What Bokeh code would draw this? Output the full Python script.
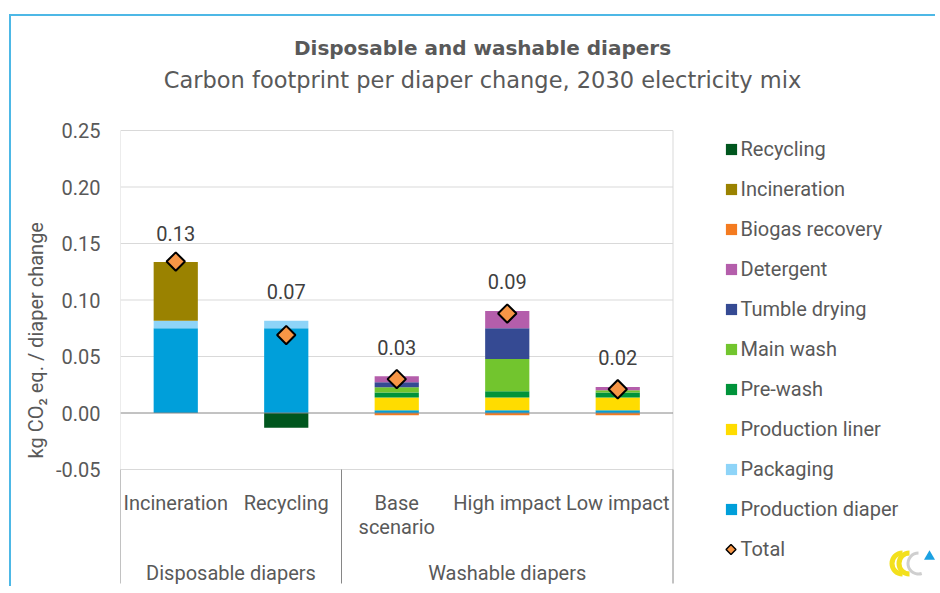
import numpy as np
from bokeh.plotting import figure
from bokeh.models import Range1d, FixedTicker, NumeralTickFormatter, Legend, LegendItem, Title
from bokeh.core.properties import value
from bokeh.embed import file_html
from bokeh.resources import INLINE

# ---------------- data ----------------
categories = ["Incineration", "Recycling", "Base scenario", "High impact", "Low impact"]
category_labels = ["Incineration", "Recycling", "Base\nscenario", "High impact", "Low impact"]
groups = ["Disposable diapers", "Washable diapers"]
group_sizes = [2, 3]

production_diaper = [0.075, 0.075, 0.0024, 0.0024, 0.0024]
packaging = [0.0066, 0.0066, 0.0, 0.0, 0.0]
production_liner = [0.0, 0.0, 0.0113, 0.0113, 0.0113]
pre_wash = [0.0, 0.0, 0.0044, 0.0056, 0.0044]
main_wash = [0.0, 0.0, 0.0047, 0.0284, 0.0020]
tumble_drying = [0.0, 0.0, 0.0044, 0.0272, 0.0]
detergent = [0.0, 0.0, 0.0053, 0.0154, 0.0030]
biogas_recovery = [0.0, 0.0, -0.0019, -0.0019, -0.0019]
incineration = [0.052, 0.0, 0.0, 0.0, 0.0]
recycling = [0.0, -0.013, 0.0, 0.0, 0.0]
total = [0.134, 0.069, 0.030, 0.088, 0.021]

series = [
    ("Production diaper", production_diaper, "#009FDA"),
    ("Packaging", packaging, "#8ED4F8"),
    ("Production liner", production_liner, "#FFDC00"),
    ("Pre-wash", pre_wash, "#00933A"),
    ("Main wash", main_wash, "#72C52E"),
    ("Tumble drying", tumble_drying, "#354A93"),
    ("Detergent", detergent, "#B45EAB"),
    ("Biogas recovery", biogas_recovery, "#F47B20"),
    ("Incineration", incineration, "#9A8200"),
    ("Recycling", recycling, "#00561E"),
]

y_ticks = [-0.05, 0.0, 0.05, 0.10, 0.15, 0.20, 0.25]
grid_values = [-0.05, 0.05, 0.10, 0.15, 0.20, 0.25]
title_text = "Disposable and washable diapers"
subtitle_text = "Carbon footprint per diaper change, 2030 electricity mix"
y_label = "kg CO\u2082 eq. / diaper change"

# ---------------- geometry (pixels) ----------------
FONT = "Roboto"
TFONT = "DejaVu Sans"
TXT = "#595959"
W, H = 926, 572
ML = 109                      # left panel width
OX, OY = 11, 16               # page position of canvas origin
PLOT_LEFT = 120               # page x of plot-area left
ZERO_Y = 412.5                # page y of value 0
PX_CAT = 110.5                # px per category
PX_UNIT = 1130.0              # px per unit of value


def dx(page_x):
    return (page_x - PLOT_LEFT) / PX_CAT


def dy(page_y):
    return (ZERO_Y - page_y) / PX_UNIT


n = len(categories)
xc = np.arange(n) + 0.5

x_range = Range1d(0, (W - ML) / PX_CAT)
y_range = Range1d(dy(OY + H), dy(OY))

p = figure(width=W, height=H, x_range=x_range, y_range=y_range,
           output_backend="svg", toolbar_location=None,
           x_axis_location=None,
           min_border_left=ML, min_border_right=0, min_border_top=0, min_border_bottom=0)
p.styles = {"position": "relative", "top": "14px", "left": "9px",
            "border-top": "2px solid #4DB8E6", "border-left": "2px solid #4DB8E6"}
p.outline_line_color = None
p.grid.visible = False
p.background_fill_color = "white"

yax = p.yaxis[0]
yax.ticker = FixedTicker(ticks=y_ticks)
yax.formatter = NumeralTickFormatter(format="0.00")
yax.axis_line_color = None
yax.major_tick_line_color = None
yax.minor_tick_line_color = None
yax.major_label_text_font = FONT
yax.major_label_text_font_size = "20px"
yax.major_label_text_color = TXT
yax.major_label_standoff = 14

p.add_layout(Title(text=y_label, align="left", offset=130, text_font=FONT,
                   text_font_size="20px", text_font_style="normal",
                   text_color=TXT, standoff=10), "left")

# gridlines
for g in grid_values:
    p.segment(x0=0, x1=n, y0=g, y1=g, line_color="#D9D9D9", line_width=1)

# plot-area side borders
p.segment(x0=[0, n], x1=[0, n], y0=[y_ticks[-1]] * 2, y1=[y_ticks[0]] * 2,
          line_color="#D9D9D9", line_width=1)

# stacked bars
pos = np.zeros(n)
neg = np.zeros(n)
renderers = {}
for name, vals, color in series:
    v = np.array(vals)
    bottom = np.where(v >= 0, pos, neg + v)
    top = np.where(v >= 0, pos + v, neg)
    pos = pos + np.clip(v, 0, None)
    neg = neg + np.clip(v, None, 0)
    r = p.vbar(x=xc, width=0.4, bottom=bottom, top=top,
               fill_color=color, line_color=None)
    renderers[name] = r

# zero line
p.segment(x0=0, x1=n, y0=0, y1=0, line_color="#868686", line_width=1)

# category axis separators (below plot area)
bottom_y = dy(583)
sep_x = [0] + list(np.cumsum(group_sizes))
p.segment(x0=sep_x, x1=sep_x, y0=[y_ticks[0]] * len(sep_x), y1=[bottom_y] * len(sep_x),
          line_color="#868686", line_width=1)

# total markers
tot = p.scatter(x=xc, y=total, marker="square", size=13, angle=np.pi / 4,
                fill_color="#F79646", line_color="black", line_width=2)

# data labels
p.text(x=xc, y=pos, text=[f"{t:.2f}" for t in total], y_offset=-29,
       text_align="center", text_baseline="middle", text_font=value(FONT),
       text_font_size="20px", text_color="#404040")

# category labels
p.text(x=xc, y=[dy(490)] * n, text=category_labels, text_align="center",
       text_baseline="top", text_font=value(FONT), text_font_size="20px",
       text_color=TXT, text_line_height=1.0)
gx = [(sep_x[i] + sep_x[i + 1]) / 2 for i in range(len(groups))]
p.text(x=gx, y=[dy(572)] * len(groups), text=groups, text_align="center",
       text_baseline="middle", text_font=value(FONT), text_font_size="20px",
       text_color=TXT)

# titles
p.text(x=[dx(482)], y=[dy(47)], text=[title_text], text_align="center",
       text_baseline="middle", text_font=value(TFONT), text_font_size="20px",
       text_font_style="bold", text_color=TXT)
p.text(x=[dx(482)], y=[dy(79)], text=[subtitle_text], text_align="center",
       text_baseline="middle", text_font=value(TFONT), text_font_size="22.5px",
       text_color=TXT)

# small logo
p.annular_wedge(x=[dx(902), dx(909)], y=[dy(563)] * 2, inner_radius=8, outer_radius=13,
                inner_radius_units="screen", outer_radius_units="screen",
                start_angle=np.pi * 0.5, end_angle=np.pi * 1.5,
                fill_color="#F3E01C", line_color=None)
p.annular_wedge(x=[dx(918)], y=[dy(563)], inner_radius=9, outer_radius=12,
                inner_radius_units="screen", outer_radius_units="screen",
                start_angle=np.pi * 0.5, end_angle=np.pi * 1.6,
                fill_color="#CFCFCF", line_color=None)
p.scatter(x=[dx(929)], y=[dy(556)], marker="triangle", size=11,
          fill_color="#1BA1E2", line_color=None)

# legend
order = ["Recycling", "Incineration", "Biogas recovery", "Detergent", "Tumble drying",
         "Main wash", "Pre-wash", "Production liner", "Packaging", "Production diaper"]
items = [LegendItem(label=nm, renderers=[renderers[nm]]) for nm in order]
# legend entry for Total: invisible legend glyph + a rotated-square key drawn beside it
tot_key = p.scatter(x=[], y=[], marker="square", size=1, fill_alpha=0, line_alpha=0)
items.append(LegendItem(label="Total", renderers=[tot_key]))
LEG_TOP = 149
LEG_PITCH = 40
p.scatter(x=[dx(730.5)], y=[dy(LEG_TOP + LEG_PITCH * len(order))], marker="square",
          size=7, angle=np.pi / 4, fill_color="#F79646", line_color="black", line_width=1.5)
legend = Legend(items=items, location=(603.5, 27), glyph_width=14, glyph_height=14,
                label_standoff=3, spacing=16, padding=0, margin=0,
                label_text_font=FONT, label_text_font_size="20px",
                label_text_color=TXT, border_line_color=None,
                background_fill_alpha=0)
p.add_layout(legend, "center")

open("out.html", "w").write(file_html(p, INLINE))
